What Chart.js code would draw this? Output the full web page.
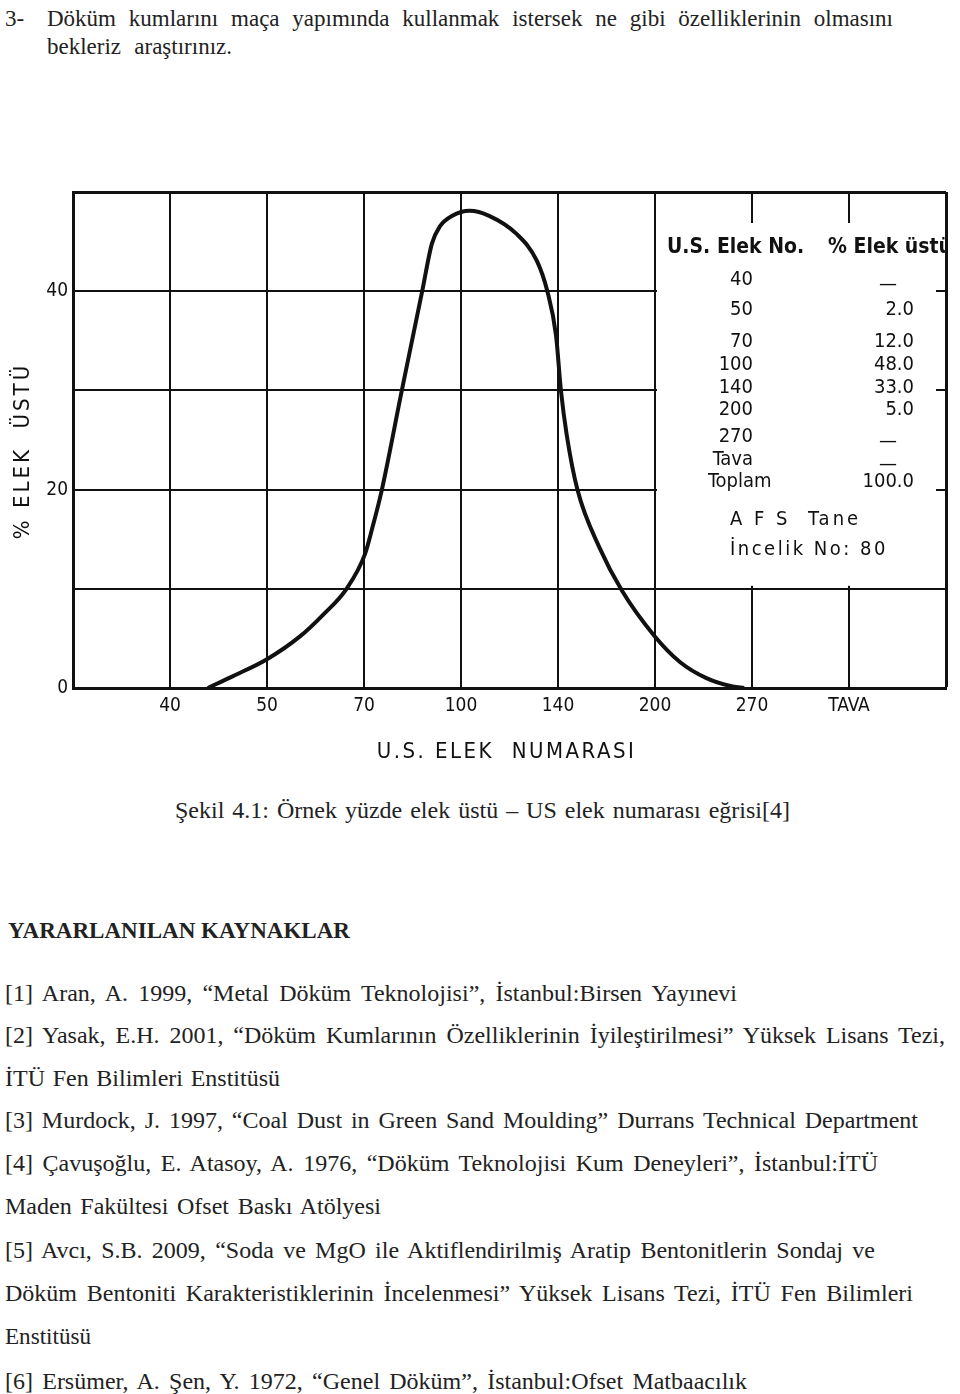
<!DOCTYPE html>
<html lang="tr">
<head>
<meta charset="utf-8">
<title>Elek analizi</title>
<script src="https://cdn.jsdelivr.net/npm/chart.js@4.4.1/dist/chart.umd.min.js"></script>
<style>
    html, body { margin: 0; padding: 0; background: #fff; }
    body {
        width: 960px; height: 1394px; position: relative; overflow: hidden;
        font-family: 'Liberation Serif', 'Times New Roman', serif; color: #222;
    }
    .line { position: absolute; white-space: nowrap; line-height: 1; }
    #chartBox { position: absolute; left: 0; top: 175px; width: 960px; height: 600px; }
</style>
</head>
<body>
<div id="chartBox"><canvas id="sieveChart" width="960" height="600"></canvas></div>

<script>
// 数据
const xTickLabels = ['', '40', '50', '70', '100', '140', '200', '270', 'TAVA', ''];
const yTickLabels = ['0', '', '20', '', '40', ''];

// curve: position on the sieve axis (0..9 grid steps) and % retained
const curveX = [1.39, 1.65, 2.0, 2.34, 2.58, 2.82, 3.01, 3.09, 3.18, 3.39, 3.6, 3.7, 3.78, 3.91, 4.09,
                4.29, 4.57, 4.78, 4.89, 4.98, 5.03, 5.09, 5.2, 5.43, 5.66, 5.99, 6.26, 6.53, 6.8, 6.92];
const curveY = [0, 1.2, 2.9, 5.2, 7.4, 10.0, 13.5, 16.3, 19.8, 30.0, 40.0, 44.8, 46.5, 47.6, 48.1,
                47.6, 45.8, 43.1, 40.0, 35.5, 30.0, 25.5, 20.0, 14.1, 9.8, 5.3, 2.6, 1.0, 0.15, 0];

// table inside the chart
const sieveNos = ['40', '50', '70', '100', '140', '200', '270', 'Tava'];
const retained = [null, 2.0, 12.0, 48.0, 33.0, 5.0, null, null];
const retainedTotal = 100.0;
const afsFineness = 80;

// text around the figure
const textLines = [
    { t: '3-', x: 5, y: 18, s: 23 },
    { t: 'Döküm kumlarını maça yapımında kullanmak istersek ne gibi özelliklerinin olmasını', x: 47, y: 18, s: 23, w: 846 },
    { t: 'bekleriz araştırınız.', x: 47, y: 46, s: 23, w: 185 },
    { t: 'Şekil 4.1: Örnek yüzde elek üstü – US elek numarası eğrisi[4]', x: 175, y: 810, s: 24, w: 615 },
    { t: 'YARARLANILAN KAYNAKLAR', x: 8, y: 930, s: 24, w: 342, b: true },
    { t: '[1] Aran, A. 1999, “Metal Döküm Teknolojisi”, İstanbul:Birsen Yayınevi', x: 5, y: 993, s: 24, w: 732 },
    { t: '[2] Yasak, E.H. 2001, “Döküm Kumlarının Özelliklerinin İyileştirilmesi” Yüksek Lisans Tezi,', x: 5, y: 1035, s: 24, w: 940 },
    { t: 'İTÜ Fen Bilimleri Enstitüsü', x: 5, y: 1078, s: 24, w: 275 },
    { t: '[3] Murdock, J. 1997, “Coal Dust in Green Sand Moulding” Durrans Technical Department', x: 5, y: 1120, s: 24, w: 913 },
    { t: '[4] Çavuşoğlu, E. Atasoy, A. 1976, “Döküm Teknolojisi Kum Deneyleri”, İstanbul:İTÜ', x: 5, y: 1163, s: 24, w: 873 },
    { t: 'Maden Fakültesi Ofset Baskı Atölyesi', x: 5, y: 1206, s: 24, w: 376 },
    { t: '[5] Avcı, S.B. 2009, “Soda ve MgO ile Aktiflendirilmiş Aratip Bentonitlerin Sondaj ve', x: 5, y: 1250, s: 24, w: 870 },
    { t: 'Döküm Bentoniti Karakteristiklerinin İncelenmesi” Yüksek Lisans Tezi, İTÜ Fen Bilimleri', x: 5, y: 1293, s: 24, w: 908 },
    { t: 'Enstitüsü', x: 5, y: 1336, s: 24, w: 86 },
    { t: '[6] Ersümer, A. Şen, Y. 1972, “Genel Döküm”, İstanbul:Ofset Matbaacılık', x: 5, y: 1381, s: 24, w: 742 }
];

const INK = '#111';
const DIN = '"DejaVu Sans Condensed", "Liberation Sans Narrow", "DejaVu Sans", sans-serif';

// 页面文字
function placeText() {
    textLines.forEach(l => {
        const d = document.createElement('div');
        d.className = 'line';
        d.textContent = l.t;
        d.style.left = l.x + 'px';
        d.style.top = (l.y - l.s / 2) + 'px';
        d.style.fontSize = l.s + 'px';
        if (l.b) d.style.fontWeight = 'bold';
        document.body.appendChild(d);
        if (!l.w) return;
        const natural = d.getBoundingClientRect().width;
        const gaps = (l.t.match(/ /g) || []).length;
        if (natural > l.w) {
            d.style.transformOrigin = 'left center';
            d.style.transform = 'scaleX(' + (l.w / natural) + ')';
        } else if (gaps) {
            d.style.wordSpacing = ((l.w - natural) / gaps) + 'px';
        }
    });
}

// white box for the table + table text + axis titles
const tablePlugin = {
    id: 'tablePlugin',
    beforeDatasetsDraw(chart) {
        const { ctx, scales: { x, y } } = chart;
        const left = x.getPixelForValue(6) + 2;
        const right = x.getPixelForValue(9) - 10;
        const top = y.getPixelForValue(50) + 31;
        const bottom = y.getPixelForValue(10) - 3;
        ctx.save();
        ctx.fillStyle = '#fff';
        ctx.fillRect(left, top, right - left, bottom - top);
        ctx.restore();
    },
    afterDraw(chart) {
        const { ctx, chartArea: a } = chart;
        const rowY = [88, 118, 150, 173, 196, 218, 245, 268];
        ctx.save();
        ctx.fillStyle = INK;
        ctx.textBaseline = 'middle';

        // header
        ctx.save();
        ctx.beginPath();
        ctx.rect(0, 0, a.right - 1, chart.height);
        ctx.clip();
        ctx.font = 'bold 21px ' + DIN;
        ctx.textAlign = 'left';
        ctx.fillText('U.S. Elek No.', 667, a.top + 56);
        ctx.fillText('% Elek üstü', 828, a.top + 56);
        ctx.restore();

        ctx.font = '20px ' + DIN;
        sieveNos.forEach((n, i) => {
            ctx.textAlign = 'right';
            ctx.fillText(n, 753, a.top + rowY[i]);
            const v = retained[i];
            if (v === null) {
                ctx.textAlign = 'center';
                ctx.fillText('—', 888, a.top + rowY[i] + 5);
            } else {
                ctx.fillText(v.toFixed(1), 914, a.top + rowY[i]);
            }
        });
        ctx.textAlign = 'left';
        ctx.fillText('Toplam', 708, a.top + 290);
        ctx.textAlign = 'right';
        ctx.fillText(retainedTotal.toFixed(1), 914, a.top + 290);

        ctx.textAlign = 'left';
        ctx.letterSpacing = '3px';
        ctx.fillText('A F S  Tane', 730, a.top + 328);
        ctx.letterSpacing = '2.5px';
        ctx.fillText('İncelik No: ' + afsFineness, 730, a.top + 358);

        // axis titles
        ctx.font = '22px ' + DIN;
        ctx.textAlign = 'center';
        ctx.letterSpacing = '2.5px';
        ctx.fillText('U.S. ELEK  NUMARASI', (a.left + a.right) / 2 - 3, a.bottom + 64);
        ctx.translate(23, a.top + 259);
        ctx.rotate(-Math.PI / 2);
        ctx.letterSpacing = '3px';
        ctx.fillText('% ELEK  ÜSTÜ', 0, 0);
        ctx.restore();
    }
};

// 初始化图表
function initChart() {
    const ctx = document.getElementById('sieveChart').getContext('2d');
    const points = curveX.map((x, i) => ({ x: x, y: curveY[i] }));
    new Chart(ctx, {
        type: 'line',
        data: {
            datasets: [{
                label: '% elek üstü',
                data: points,
                borderColor: INK,
                borderWidth: 4,
                pointRadius: 0,
                fill: false,
                cubicInterpolationMode: 'monotone'
            }]
        },
        options: {
            responsive: false,
            animation: false,
            devicePixelRatio: 1,
            layout: { padding: { top: 17, right: 14, left: 0, bottom: 0 } },
            plugins: { legend: { display: false }, tooltip: { enabled: false } },
            scales: {
                x: {
                    type: 'linear',
                    min: 0,
                    max: 9,
                    afterFit: s => { s.height = 87; },
                    ticks: {
                        stepSize: 1,
                        padding: 7,
                        color: INK,
                        font: { family: DIN, size: 19 },
                        maxRotation: 0,
                        autoSkip: false,
                        callback: (v, i) => xTickLabels[i]
                    },
                    grid: {
                        color: INK,
                        drawTicks: false,
                        lineWidth: c => (c.index === 9 ? 3 : 2)
                    },
                    border: { color: INK, width: 3 }
                },
                y: {
                    min: 0,
                    max: 50,
                    afterFit: s => { s.width = 73; },
                    ticks: {
                        stepSize: 10,
                        padding: 5,
                        color: INK,
                        font: { family: DIN, size: 19 },
                        callback: (v, i) => yTickLabels[i]
                    },
                    grid: {
                        color: INK,
                        drawTicks: false,
                        lineWidth: c => (c.index === 5 ? 3 : 2)
                    },
                    border: { color: INK, width: 3 }
                }
            }
        },
        plugins: [tablePlugin]
    });
}

window.onload = function() {
    placeText();
    initChart();
};
</script>
</body>
</html>
